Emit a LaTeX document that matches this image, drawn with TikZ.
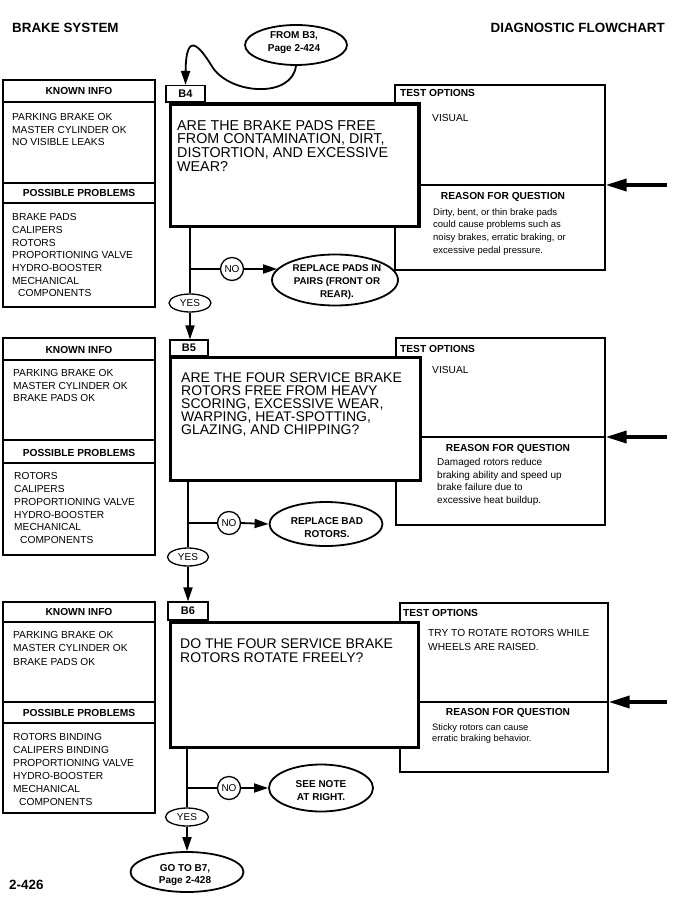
\documentclass[tikz,border=0pt]{standalone}
\usepackage{fontspec}
\setmainfont{Liberation Sans}
\usetikzlibrary{arrows.meta,shapes.geometric,fit}
\tikzset{
  box/.style={draw, line width=1.2pt, fill=white, inner sep=0pt},
  heavy/.style={draw, line width=3.8pt, fill=white, inner sep=0pt},
  lab/.style={draw, line width=1.2pt, fill=white, inner sep=0pt, font=\fontsize{11}{11}\selectfont\bfseries},
  sm/.style={anchor=base west, inner sep=0pt, font=\fontsize{10.2}{12}\selectfont},
  smb/.style={anchor=base, inner sep=0pt, font=\fontsize{10.2}{12}\selectfont\bfseries},
  smbl/.style={anchor=base west, inner sep=0pt, font=\fontsize{10.2}{12}\selectfont\bfseries},
  desc/.style={anchor=base west, inner sep=0pt, font=\fontsize{9.5}{12}\selectfont},
  qtext/.style={anchor=base west, inner sep=0pt, font=\fontsize{14.3}{14}\selectfont},
  hdr/.style={inner sep=0pt, font=\fontsize{13.4}{14}\selectfont\bfseries},
  oval/.style={draw, ellipse, line width=1.8pt, inner sep=0pt, fill=white},
  ovtext/.style={align=center, inner sep=0pt, font=\fontsize{10}{13}\selectfont\bfseries},
  yesnode/.style={draw, ellipse, line width=1.3pt, inner sep=0pt, fill=white, font=\fontsize{10}{12}\selectfont},
  nonode/.style={draw, circle, line width=1.3pt, inner sep=0pt, fill=white, minimum size=23pt, font=\fontsize{10}{12}\selectfont},
  conn/.style={line width=1.8pt},
  divider/.style={line width=1.2pt},
  arr/.style={line width=1.8pt, -{Triangle[length=14pt,width=9pt]}},
  bigarr/.style={line width=3.6pt, -{Triangle[length=21pt,width=12pt]}},
}
\begin{document}
\begin{tikzpicture}[x=1pt,y=-1pt]
\useasboundingbox[fill=white] (0,0) rectangle (680,904);

% headers
\node[hdr, anchor=base west] (title) at (12,32.8) {BRAKE SYSTEM};
\node[hdr, anchor=base east] (title2) at (665,32.8) {DIAGNOSTIC FLOWCHART};
\node[hdr, anchor=base west] (pageno) at (9,889.8) {2-426};

% entry oval
\node[oval, minimum width=102pt, minimum height=40pt] (from) at (296,45) {};
\node[ovtext] (fromt) at (294,43) {FROM B3,\\Page 2-424};

% ================= B4 =================
\node[box, fit={(3,80)(155,307)}] (k4) {};
\draw[divider] (3,102) -- (155,102);
\draw[divider] (3,183) -- (155,183);
\draw[divider] (3,203) -- (155,203);
\node[smb] (k4h) at (79,94.7) {KNOWN INFO};
\foreach \t [count=\i from 0] in {PARKING BRAKE OK, MASTER CYLINDER OK, NO VISIBLE LEAKS}
  \node[sm] (k4i\i) at (12,{120.7+12.5*\i}) {\t};
\node[smb] (p4h) at (79,196.7) {POSSIBLE PROBLEMS};
\foreach \t [count=\i from 0] in {BRAKE PADS, CALIPERS, ROTORS, PROPORTIONING VALVE, HYDRO-BOOSTER, MECHANICAL, {\hspace*{6pt}COMPONENTS}}
  \node[sm] (p4i\i) at (12,{220.7+12.7*\i}) {\t};

\node[box, fit={(395,85)(605,270)}] (t4) {};
\draw[divider] (395,185) -- (605,185);
\node[heavy, fit={(170.5,104)(419,226.5)}] (q4) {};
\node[lab, minimum width=39pt, minimum height=16.5pt] (b4lab) at (185.5,93.75) {B4};
\foreach \t [count=\i from 0] in {ARE THE BRAKE PADS FREE, {FROM CONTAMINATION, DIRT,}, {DISTORTION, AND EXCESSIVE}, WEAR?}
  \node[qtext] (q4l\i) at (177,{130.1+13.9*\i}) {\t};
\node[smbl] (t4h) at (400,96.9) {TEST OPTIONS};
\node[sm] (t4v) at (432,121.7) {VISUAL};
\node[smb] (r4h) at (503,199.7) {REASON FOR QUESTION};
\foreach \t [count=\i from 0] in {{Dirty, bent, or thin brake pads}, could cause problems such as, {noisy brakes, erratic braking, or}, excessive pedal pressure.}
  \node[desc] (r4l\i) at (433,{215+12.8*\i}) {\t};
\coordinate (in4) at (667,185);
\draw[bigarr] (in4) -- (in4 -| t4.east);

\node[yesnode, minimum width=42pt, minimum height=18pt] (yes4) at (190,303) {YES};
\node[nonode] (no4) at (232,269) {NO};
\node[oval, minimum width=126pt, minimum height=51pt] (r4) at (335,280) {};
\node[ovtext, font=\fontsize{9.8}{13}\selectfont\bfseries] (r4t) at (337,282) {REPLACE PADS IN\\PAIRS (FRONT OR\\REAR).};

\draw[arr] (from.south) .. controls (292,98) and (232,95) .. (213,68)
           .. controls (203,52) and (186,25) .. (b4lab.north);
\draw[conn] (q4.south -| yes4) -- (yes4.north);
\draw[conn] (no4 -| yes4) -- (no4.west);
\draw[arr] (no4.east) -- (no4.east -| r4.169);

% ================= B5 =================
\node[box, fit={(3,338)(155,555)}] (k5) {};
\draw[divider] (3,360) -- (155,360);
\draw[divider] (3,440) -- (155,440);
\draw[divider] (3,463) -- (155,463);
\node[smb] (k5h) at (79,353.7) {KNOWN INFO};
\foreach \t [count=\i from 0] in {PARKING BRAKE OK, MASTER CYLINDER OK, BRAKE PADS OK}
  \node[sm] (k5i\i) at (13,{376.7+12.5*\i}) {\t};
\node[smb] (p5h) at (79,456.7) {POSSIBLE PROBLEMS};
\foreach \t [count=\i from 0] in {ROTORS, CALIPERS, PROPORTIONING VALVE, HYDRO-BOOSTER, MECHANICAL, {\hspace*{6pt}COMPONENTS}}
  \node[sm] (p5i\i) at (14,{479.7+12.8*\i}) {\t};

\node[box, fit={(396,338)(605,525)}] (t5) {};
\draw[divider] (396,437) -- (605,437);
\node[heavy, fit={(170.5,357.5)(420.5,480.5)}] (q5) {};
\node[lab, minimum width=38pt, minimum height=16pt] (b5lab) at (189,348) {B5};
\foreach \t [count=\i from 0] in {ARE THE FOUR SERVICE BRAKE, ROTORS FREE FROM HEAVY, {SCORING, EXCESSIVE WEAR,}, {WARPING, HEAT-SPOTTING,}, {GLAZING, AND CHIPPING?}}
  \node[qtext, font=\fontsize{14}{14}\selectfont] (q5l\i) at (181,{382.1+13*\i}) {\t};
\node[smbl] (t5h) at (400,352.6) {TEST OPTIONS};
\node[sm] (t5v) at (432,373.7) {VISUAL};
\node[smb] (r5h) at (508,451.7) {REASON FOR QUESTION};
\foreach \t [count=\i from 0] in {Damaged rotors reduce, braking ability and speed up, brake failure due to, excessive heat buildup.}
  \node[desc, font=\fontsize{10}{12}\selectfont] (r5l\i) at (437,{465.5+12.7*\i}) {\t};
\coordinate (in5) at (667,437);
\draw[bigarr] (in5) -- (in5 -| t5.east);

\node[yesnode, minimum width=41pt, minimum height=18pt] (yes5) at (188,557) {YES};
\node[nonode] (no5) at (229,523) {NO};
\node[oval, minimum width=113pt, minimum height=44pt] (r5) at (326,524) {};
\node[ovtext] (r5t) at (327,528) {REPLACE BAD\\ROTORS.};

\draw[arr] (yes4.south) -- (yes4.south |- b5lab.north);
\draw[conn] (q5.south -| yes5) -- (yes5.north);
\draw[conn] (no5 -| yes5) -- (no5.west);
\draw[arr] (no5.east) -- (r5.west);

% ================= B6 =================
\node[box, fit={(3,602)(155,813)}] (k6) {};
\draw[divider] (3,622) -- (155,622);
\draw[divider] (3,702) -- (155,702);
\draw[divider] (3,723) -- (155,723);
\node[smb] (k6h) at (79,615.7) {KNOWN INFO};
\foreach \t [count=\i from 0] in {PARKING BRAKE OK, MASTER CYLINDER OK, BRAKE PADS OK}
  \node[sm] (k6i\i) at (13,{638.7+13.2*\i}) {\t};
\node[smb] (p6h) at (79,716.7) {POSSIBLE PROBLEMS};
\foreach \t [count=\i from 0] in {ROTORS BINDING, CALIPERS BINDING, PROPORTIONING VALVE, HYDRO-BOOSTER, MECHANICAL, {\hspace*{6pt}COMPONENTS}}
  \node[sm] (p6i\i) at (13,{740.7+13*\i}) {\t};

\node[box, fit={(400,603)(608,772)}] (t6) {};
\draw[divider] (400,702) -- (608,702);
\node[heavy, fit={(170.5,622.5)(418.5,747.5)}] (q6) {};
\node[lab, minimum width=40pt, minimum height=18pt] (b6lab) at (188,611) {B6};
\foreach \t [count=\i from 0] in {DO THE FOUR SERVICE BRAKE, ROTORS ROTATE FREELY?}
  \node[qtext, font=\fontsize{14}{14}\selectfont] (q6l\i) at (180,{648.1+14*\i}) {\t};
\node[smbl] (t6h) at (403,616.5) {TEST OPTIONS};
\foreach \t [count=\i from 0] in {TRY TO ROTATE ROTORS WHILE, WHEELS ARE RAISED.}
  \node[sm] (t6v\i) at (428,{636.6+14*\i}) {\t};
\node[smb] (r6h) at (508,715.7) {REASON FOR QUESTION};
\foreach \t [count=\i from 0] in {Sticky rotors can cause, erratic braking behavior.}
  \node[desc, font=\fontsize{9.3}{12}\selectfont] (r6l\i) at (432,{730.3+11.6*\i}) {\t};
\coordinate (in6) at (667,702);
\draw[bigarr] (in6) -- (in6 -| t6.east);

\node[yesnode, minimum width=43pt, minimum height=18pt] (yes6) at (187,817) {YES};
\node[nonode] (no6) at (229,788) {NO};
\node[oval, minimum width=104pt, minimum height=47pt] (r6) at (321,788) {};
\node[ovtext] (r6t) at (321,791) {SEE NOTE\\AT RIGHT.};
\node[oval, minimum width=113pt, minimum height=40pt] (go) at (187,872) {};
\node[ovtext, font=\fontsize{10}{11.6}\selectfont\bfseries] (got) at (185,875) {GO TO B7,\\Page 2-428};

\draw[arr] (yes5.south) -- (yes5.south |- b6lab.north);
\draw[conn] (q6.south -| yes6) -- (yes6.north);
\draw[conn] (no6 -| yes6) -- (no6.west);
\draw[arr] (no6.east) -- (r6.west);
\draw[arr] (yes6.south) -- (go.north);
\end{tikzpicture}
\end{document}
